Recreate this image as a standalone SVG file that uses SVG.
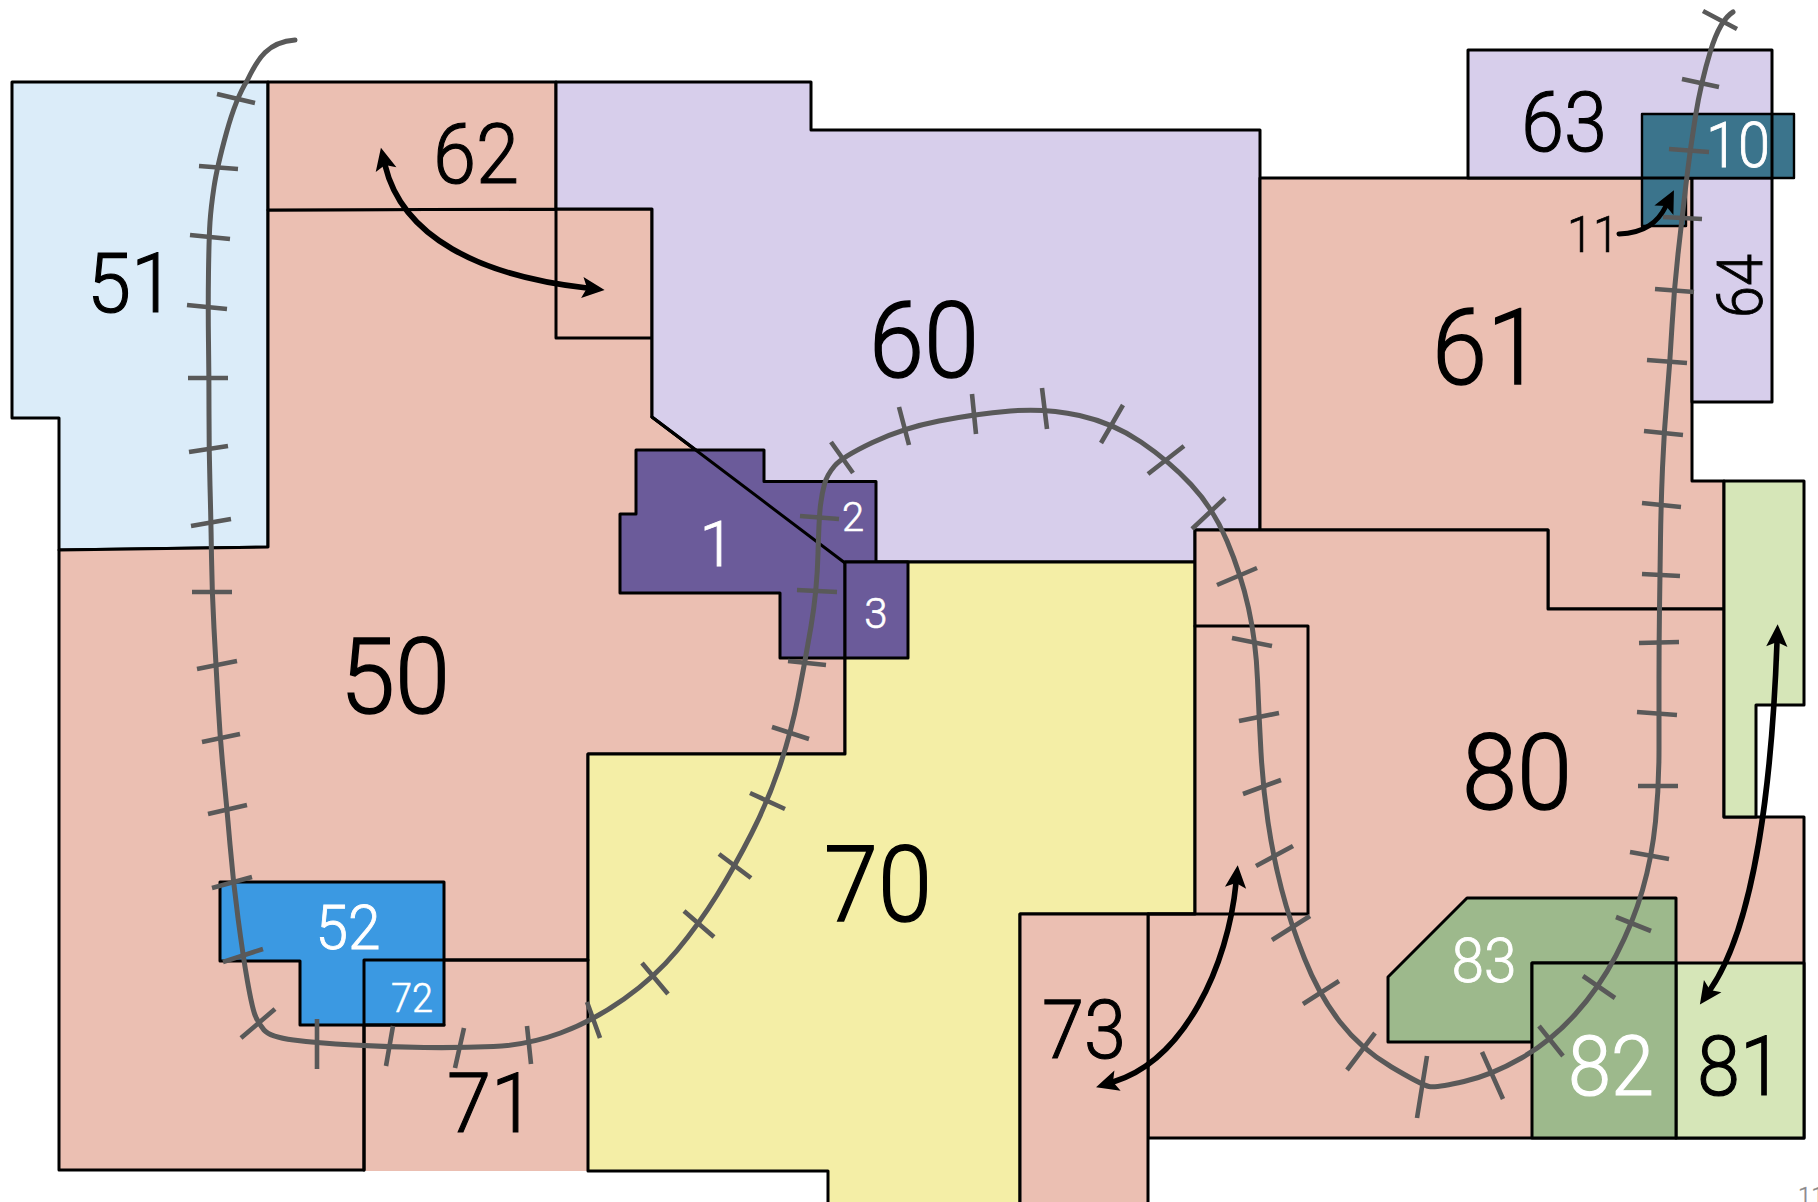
<svg xmlns="http://www.w3.org/2000/svg" width="1818" height="1202" viewBox="0 0 1818 1202">
<defs>
<style>
.r{stroke:#000;stroke-width:3;stroke-linejoin:round;stroke-linecap:round}
.o{fill:none}
.pink{fill:#EBBFB2}.lav{fill:#D7CEEB}.sky{fill:#DBECF9}.yel{fill:#F4EEA6}.pur{fill:#6B5B9A}.blu{fill:#3B99E2}.tea{fill:#3B748C}.grn{fill:#9DB98C}.lgr{fill:#D6E6B8}
text{font-family:Roboto,"Liberation Sans",sans-serif;font-weight:300;text-anchor:middle;fill:#000;stroke:#000;stroke-width:.014em}
.w{fill:#fff;stroke:#fff}
.track{fill:none;stroke:#595959;stroke-width:5;stroke-linecap:round;stroke-linejoin:round}
.tick{fill:none;stroke:#595959;stroke-width:4.6}
.arr{fill:none;stroke:#000;stroke-width:5.6;stroke-linecap:round}
</style>
<marker id="h" markerUnits="userSpaceOnUse" markerWidth="26" markerHeight="26" viewBox="0 0 22 22" refX="5" refY="11" orient="auto-start-reverse">
<path d="M20,11 L1,2 L5,11 L1,20 Z" fill="#000"/>
</marker>
</defs>
<g id="n51"><path class="r sky" d="M12,82 H268 V547 L59,550 V418 H12 Z"/><text x="131" y="312" font-size="84" textLength="88" lengthAdjust="spacingAndGlyphs">51</text></g>
<g id="n71"><rect class="pink" x="364" y="960" width="224" height="211"/><text x="491" y="1132" font-size="84" textLength="88" lengthAdjust="spacingAndGlyphs">71</text></g>
<g id="n50"><path class="r pink" d="M59,550 L268,547 V210 L652,209 V417 L845,563 V754 H588 V960 H364 V1170 H59 Z"/><text x="395" y="713" font-size="105" textLength="110" lengthAdjust="spacingAndGlyphs">50</text></g>
<g id="n62"><path class="r pink" d="M268,82 H556 V209 H652 V338 H556 V209 L268,210 Z"/><text x="476" y="183" font-size="84" textLength="86" lengthAdjust="spacingAndGlyphs">62</text></g>
<g id="n60"><path class="r lav" d="M556,82 H811 V130 H1260 V530 H1195 V562 H845 L652,417 V209 H556 Z"/><text x="924" y="377" font-size="105" textLength="110" lengthAdjust="spacingAndGlyphs">60</text></g>
<g id="n70"><path class="r yel" d="M845,562 H1195 V914 H1020 V1206 H828 V1171 H588 V754 H845 Z"/><text x="878" y="921" font-size="105" textLength="108" lengthAdjust="spacingAndGlyphs">70</text></g>
<g id="n61"><path class="r pink" d="M1260,178 H1692 V481 H1724 V609 H1548 V530 H1260 Z"/><text x="1487" y="384" font-size="105" textLength="110" lengthAdjust="spacingAndGlyphs">61</text></g>
<g id="n80"><path class="r pink" d="M1195,530 H1548 V609 H1724 V817 H1804 V1138 H1148 V914 H1195 Z"/><path class="r o" d="M1195,626 H1308 V914 H1148"/><text x="1517" y="809" font-size="105" textLength="110" lengthAdjust="spacingAndGlyphs">80</text></g>
<g id="n73"><path class="r pink" d="M1020,914 H1148 V1206 H1020 Z"/><text x="1084" y="1058" font-size="82" textLength="84" lengthAdjust="spacingAndGlyphs">73</text></g>
<g id="n63"><path class="r lav" d="M1468,178 V50 H1772 V178 Z"/><text x="1564" y="151" font-size="84" textLength="86" lengthAdjust="spacingAndGlyphs">63</text></g>
<g id="n64"><path class="r lav" d="M1692,178 H1772 V402 H1692 Z"/><text transform="translate(1762,286) rotate(-90)" font-size="63" textLength="64" lengthAdjust="spacingAndGlyphs">64</text></g>
<g id="n81"><path class="r lgr" d="M1676,963 H1804 V1138 H1676 Z"/><text x="1740" y="1095" font-size="84" textLength="86" lengthAdjust="spacingAndGlyphs">81</text></g>
<g id="n81b"><path class="r lgr" d="M1724,481 H1804 V705 H1756 V817 H1724 Z"/></g>
<g id="n83"><path class="r grn" d="M1467,898 H1676 V963 H1532 V1042 H1388 V977 Z"/><text class="w" x="1484" y="982" font-size="62" textLength="65" lengthAdjust="spacingAndGlyphs">83</text></g>
<g id="n82"><path class="r grn" d="M1532,963 H1676 V1138 H1532 Z"/><text class="w" x="1611" y="1095" font-size="84" textLength="86" lengthAdjust="spacingAndGlyphs">82</text></g>
<g id="n1"><path class="r pur" d="M636,450 H764 V481.500 H876 V562 H845 V658 H780 V593 H620 V514 H636 Z"/><path class="r o" d="M652,417 L845,563"/><text class="w" x="717" y="566" font-size="63">1</text><text class="w" x="853" y="531" font-size="40">2</text></g>
<g id="n3"><path class="r pur" d="M845,562 H908 V658 H845 Z"/><text class="w" x="876" y="628" font-size="42">3</text></g>
<g id="n52"><path class="r blu" d="M220,882 H444 V1025 H300 V961 H220 Z"/><text class="w" x="348" y="949" font-size="62" textLength="65" lengthAdjust="spacingAndGlyphs">52</text></g>
<g id="n72"><path class="r o" d="M588,960 H364 V1025 H444"/><path class="r o" d="M364,1025 V1170"/><text class="w" x="412" y="1012" font-size="41" textLength="42" lengthAdjust="spacingAndGlyphs">72</text></g>
<g id="n10"><path class="tea" stroke="#000" stroke-width="2.400" stroke-linejoin="round" d="M1642,114 H1794 V178 H1686 V226 H1642 Z"/><path class="r o" d="M1642,178 H1686"/><path class="r o" d="M1772,114 V178"/><text class="w" x="1738" y="167" font-size="63" textLength="64" lengthAdjust="spacingAndGlyphs">10</text></g>
<g id="n11"><text x="1593" y="252" font-size="50" textLength="52" lengthAdjust="spacingAndGlyphs">11</text></g>
<g id="connectors">
<path class="track" d="M295,40 C268,42 258,58 247.500,80 Q236,98 226.500,132.500 T214,187 T210,222 T208.500,272 T208.500,342.500 T209,414 T210,486 T211.500,557 T214,628.500 T218,701.500 T223.500,773.500 T230,844.500 T238,918 T247.500,981.500 T255,1015 T264,1030 T293.500,1040 T353,1045 T424,1047.500 T493.500,1046.500 T560.500,1033 T624,999 T677,950.500 T717,895 T751.500,833.500 T779.500,767 T798,697.500 T811,626.500 T818,554 T820.500,505 T824.500,484 T834.500,466 T872.500,442.500 T939,421 T1010.500,411 T1079.500,415.500 T1141,442 T1191,484.500 T1227,541 T1248.500,608 T1257.500,679.500 T1261,752.500 T1268,822 T1281.500,889 T1304.500,958.500 T1340,1022 T1391.500,1067 T1429,1086.500 T1464,1081.500 T1521.500,1058 T1575,1014.500 T1616,955.500 T1642.500,890 T1655.500,821.500 T1659,749.500 T1659,678 T1659.500,608.500 T1660.500,539 T1662.500,468 T1667,397 T1672,326 T1678,254 T1686,184 T1695.500,116 T1710.500,51 T1733,12"/>
<path class="tick" d="M217,94 L255,103 M199,166 L238,169 M190,235 L230,239 M187,305 L227,309 M188,378 L228,378 M189,452 L228,446 M191,526 L231,519 M192,592 L232,592 M197,669 L237,661 M202,742 L240,734 M208,814 L247,805 M212,888 L252,877 M223,962 L263,949 M241,1038 L275,1009 M317,1019 L317,1069 M393,1026 L386,1066 M464,1028 L455,1068 M527,1026 L531,1064 M587,1002 L600,1038 M642,963 L668,994 M684,911 L714,937 M719,854 L751,878 M750,793 L785,809 M772,727 L809,739 M788,661 L826,665 M797,590 L837,592 M800,516 L839,519 M831,442 L853,473 M899,407 L909,445 M972,394 L976,434 M1042,388 L1047,429 M1123,405 L1101,443 M1184,446 L1148,474 M1225,498 L1192,529 M1257,568 L1217,585 M1272,646 L1232,638 M1279,713 L1239,721 M1281,780 L1243,794 M1293,846 L1256,866 M1310,916 L1272,940 M1339,981 L1303,1004 M1375,1033 L1347,1070 M1427,1056 L1417,1118 M1482,1052 L1503,1099 M1539,1026 L1563,1056 M1583,976 L1615,998 M1616,917 L1651,931 M1630,852 L1669,859 M1638,786 L1678,786 M1637,712 L1677,715 M1639,643 L1679,642 M1642,574 L1680,576 M1642,503 L1681,507 M1644,431 L1683,435 M1647,360 L1687,363 M1655,289 L1694,292 M1663,217 L1702,219 M1669,149 L1709,152 M1682,79 L1719,87 M1703,11 L1737,29"/>
<path class="arr" marker-start="url(#h)" marker-end="url(#h)" d="M385,165 C402,237 480,276 587,288"/>
<path class="arr" marker-start="url(#h)" marker-end="url(#h)" d="M1236,883 C1228,965 1185,1060 1113,1082"/>
<path class="arr" marker-start="url(#h)" marker-end="url(#h)" d="M1777,642 C1772,780 1755,925 1710,990"/>
<path class="arr" style="stroke-width:5" marker-end="url(#h)" d="M1619,234 C1645,233 1658,222 1666,206"/>
</g>
<text x="1798" y="1204" font-size="24" style="fill:#888;stroke:#888;text-anchor:start">11</text>
</svg>
